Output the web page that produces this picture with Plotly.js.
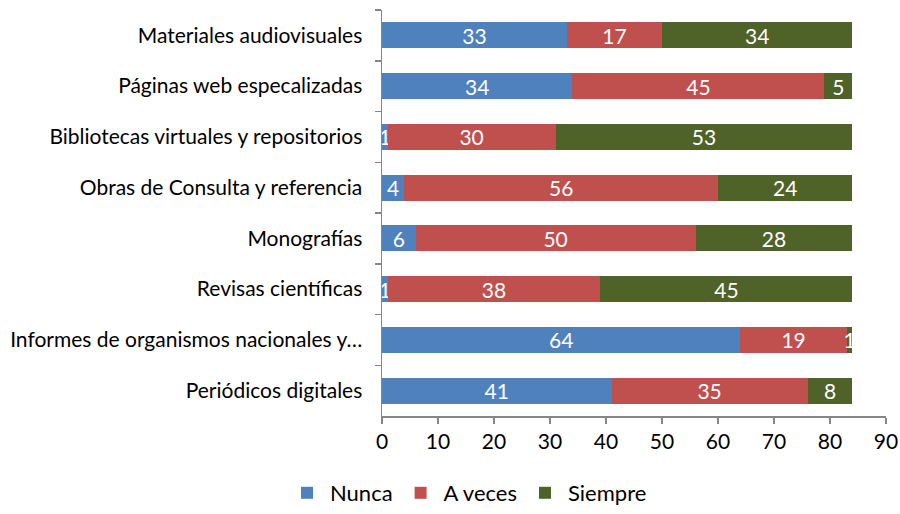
<!DOCTYPE html>
<html>
<head>
<meta charset="utf-8">
<script src="https://cdn.plot.ly/plotly-3.0.1.min.js"></script>
<style>html,body{margin:0;padding:0;background:#fff;}#chart{width:900px;height:514px;}</style>
</head>
<body>
<div id="chart"></div>
<script>
const categories = [
  "Materiales audiovisuales",
  "Páginas web especalizadas",
  "Bibliotecas virtuales y repositorios",
  "Obras de Consulta y referencia",
  "Monografías",
  "Revisas científicas",
  "Informes de organismos nacionales y…",
  "Periódicos digitales"
];
const nunca   = [33, 34, 1, 4, 6, 1, 64, 41];
const aVeces  = [17, 45, 30, 56, 50, 38, 19, 35];
const siempre = [34, 5, 53, 24, 28, 45, 1, 8];
const xTicks = [0, 10, 20, 30, 40, 50, 60, 70, 80, 90];

const FONT = "Lato, 'Open Sans', sans-serif";
function series(name, vals, color) {
  return {
    type: "bar", orientation: "h", name: name,
    x: vals, y: categories,
    marker: {color: color, line: {width: 0}},
    text: vals.map(String), textposition: "inside", insidetextanchor: "middle",
    textangle: 0, constraintext: "none", cliponaxis: false,
    textfont: {color: "#ffffff", size: 21, family: FONT},
    hoverinfo: "x+name"
  };
}
const data = [
  series("Nunca", nunca, "#4F81BD"),
  series("A veces", aVeces, "#C0504D"),
  series("Siempre", siempre, "#4F6228")
];
const layout = {
  width: 900, height: 514,
  margin: {l: 382, r: 14, t: 10, b: 98},
  barmode: "stack", bargap: 0.49,
  paper_bgcolor: "#fff", plot_bgcolor: "#fff",
  font: {family: FONT, size: 21, color: "#000"},
  showlegend: true,
  legend: {orientation: "h", xref: "container", x: 0.52, xanchor: "center", yref: "container", y: -0.008, yanchor: "bottom",
           font: {size: 22, family: FONT}, traceorder: "normal", itemwidth: 36},
  xaxis: {range: [0, 90], tickvals: xTicks, ticktext: xTicks.map(String),
          showgrid: false, zeroline: false, showline: true, linecolor: "#868686", linewidth: 1.5,
          ticks: "outside", ticklen: 6, tickcolor: "#868686", tickwidth: 1.5,
          tickfont: {size: 21, family: FONT, color: "#000"}},
  yaxis: {autorange: "reversed", type: "category", showgrid: false, zeroline: false,
          showline: true, linecolor: "#868686", linewidth: 1.5,
          ticks: "outside", tickson: "boundaries", ticklen: 6, tickcolor: "#868686", tickwidth: 1.5,
          ticklabelstandoff: 14,
          tickfont: {size: 21, family: FONT, color: "#000"}}
};
Plotly.newPlot("chart", data, layout, {displayModeBar: false, staticPlot: true});
</script>
</body>
</html>
